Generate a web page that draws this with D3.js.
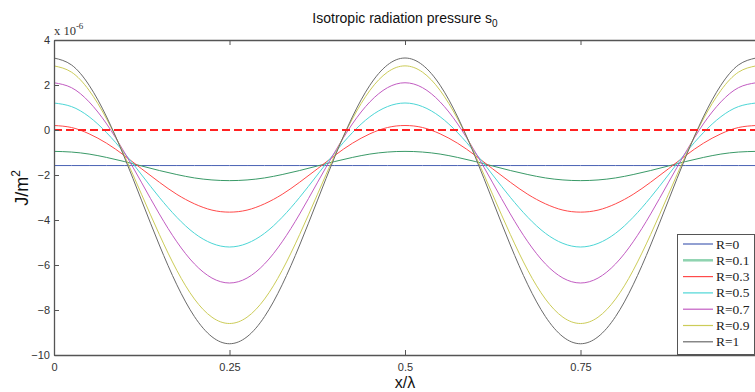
<!DOCTYPE html>
<html>
<head>
<meta charset="utf-8">
<script src="https://cdn.jsdelivr.net/npm/d3@7"></script>
<style>
  body { margin: 0; background: #fff; }
  svg { display: block; }
</style>
</head>
<body>
<script>
// sample positions along x/lambda
const xs = [0, 0.025, 0.05, 0.075, 0.1, 0.125, 0.15, 0.175, 0.2, 0.225, 0.25,
  0.275, 0.3, 0.325, 0.35, 0.375, 0.4, 0.425, 0.45, 0.475, 0.5,
  0.525, 0.55, 0.575, 0.6, 0.625, 0.65, 0.675, 0.7, 0.725, 0.75,
  0.775, 0.8, 0.825, 0.85, 0.875, 0.9, 0.925, 0.95, 0.975, 1];

// values in units of 1e-6 J/m^2
const r0 = [-1.58, -1.58, -1.58, -1.58, -1.58, -1.58, -1.58, -1.58, -1.58, -1.58, -1.58,
  -1.58, -1.58, -1.58, -1.58, -1.58, -1.58, -1.58, -1.58, -1.58, -1.58,
  -1.58, -1.58, -1.58, -1.58, -1.58, -1.58, -1.58, -1.58, -1.58, -1.58,
  -1.58, -1.58, -1.58, -1.58, -1.58, -1.58, -1.58, -1.58, -1.58, -1.58];
const r01 = [-0.95, -0.98, -1.07, -1.22, -1.40, -1.60, -1.80, -1.98, -2.13, -2.22, -2.25,
  -2.22, -2.13, -1.98, -1.80, -1.60, -1.40, -1.22, -1.07, -0.98, -0.95,
  -0.98, -1.07, -1.22, -1.40, -1.60, -1.80, -1.98, -2.13, -2.22, -2.25,
  -2.22, -2.13, -1.98, -1.80, -1.60, -1.40, -1.22, -1.07, -0.98, -0.95];
const r03 = [0.20, 0.11, -0.17, -0.59, -1.13, -1.73, -2.32, -2.86, -3.28, -3.56, -3.65,
  -3.56, -3.28, -2.86, -2.32, -1.73, -1.13, -0.59, -0.17, 0.11, 0.20,
  0.11, -0.17, -0.59, -1.13, -1.73, -2.32, -2.86, -3.28, -3.56, -3.65,
  -3.56, -3.28, -2.86, -2.32, -1.73, -1.13, -0.59, -0.17, 0.11, 0.20];
const r05 = [1.20, 1.04, 0.59, -0.12, -1.01, -2.00, -2.99, -3.88, -4.59, -5.04, -5.20,
  -5.04, -4.59, -3.88, -2.99, -2.00, -1.01, -0.12, 0.59, 1.04, 1.20,
  1.04, 0.59, -0.12, -1.01, -2.00, -2.99, -3.88, -4.59, -5.04, -5.20,
  -5.04, -4.59, -3.88, -2.99, -2.00, -1.01, -0.12, 0.59, 1.04, 1.20];
const r07 = [2.10, 1.88, 1.25, 0.27, -0.98, -2.35, -3.73, -4.97, -5.95, -6.58, -6.80,
  -6.58, -5.95, -4.97, -3.73, -2.35, -0.98, 0.27, 1.25, 1.88, 2.10,
  1.88, 1.25, 0.27, -0.98, -2.35, -3.73, -4.97, -5.95, -6.58, -6.80,
  -6.58, -5.95, -4.97, -3.73, -2.35, -0.98, 0.27, 1.25, 1.88, 2.10];
const r09 = [2.85, 2.57, 1.76, 0.49, -1.11, -2.88, -4.64, -6.24, -7.51, -8.32, -8.60,
  -8.32, -7.51, -6.24, -4.64, -2.88, -1.11, 0.49, 1.76, 2.57, 2.85,
  2.57, 1.76, 0.49, -1.11, -2.88, -4.64, -6.24, -7.51, -8.32, -8.60,
  -8.32, -7.51, -6.24, -4.64, -2.88, -1.11, 0.49, 1.76, 2.57, 2.85];
const r1 = [3.20, 2.89, 1.99, 0.58, -1.19, -3.15, -5.11, -6.88, -8.29, -9.19, -9.50,
  -9.19, -8.29, -6.88, -5.11, -3.15, -1.19, 0.58, 1.99, 2.89, 3.20,
  2.89, 1.99, 0.58, -1.19, -3.15, -5.11, -6.88, -8.29, -9.19, -9.50,
  -9.19, -8.29, -6.88, -5.11, -3.15, -1.19, 0.58, 1.99, 2.89, 3.20];

const labels = ["R=0", "R=0.1", "R=0.3", "R=0.5", "R=0.7", "R=0.9", "R=1"];
const colors = ["#4a62b4", "#3a9a68", "#ff4a4a", "#4cd6d6", "#c25cc2", "#cccc58", "#6a6a6a"];
const seriesValues = [r0, r01, r03, r05, r07, r09, r1];

const xTicks = [0, 0.25, 0.5, 0.75];
const xTickLabels = ["0", "0.25", "0.5", "0.75"];
const yTicks = [-10, -8, -6, -4, -2, 0, 2, 4];
const zeroLine = [0, 0];

const W = 755, H = 392;
const mLeft = 54, mTop = 40, mRight = 756, mBottom = 355;

const svg = d3.select("body").append("svg")
  .attr("width", W).attr("height", H);
svg.append("rect").attr("width", W).attr("height", H).attr("fill", "#fff");

const x = d3.scaleLinear().domain([0, 1]).range([mLeft, mRight]);
const y = d3.scaleLinear().domain([-10, 4]).range([mBottom, mTop]);

svg.append("clipPath").attr("id", "clip")
  .append("rect").attr("x", mLeft).attr("y", mTop)
  .attr("width", mRight - mLeft).attr("height", mBottom - mTop);

const plot = svg.append("g").attr("clip-path", "url(#clip)");

const line = d3.line()
  .x((d, i) => x(xs[i]))
  .y(d => y(d))
  .curve(d3.curveNatural);

plot.selectAll(".curve")
  .data(seriesValues)
  .enter().append("path")
  .attr("class", "curve")
  .attr("d", d => line(d))
  .attr("fill", "none")
  .attr("stroke", (d, i) => colors[i])
  .attr("stroke-width", 1);

// dashed zero line
plot.append("path")
  .attr("d", d3.line().x((d, i) => x(i)).y(d => y(d))(zeroLine))
  .attr("fill", "none")
  .attr("stroke", "#ff2222")
  .attr("stroke-width", 2)
  .attr("stroke-dasharray", "8,4");

// axes, matlab style ticks pointing inward
const axisColor = "#555";
const xb = svg.append("g")
  .attr("transform", `translate(0,${mBottom})`)
  .call(d3.axisBottom(x).tickValues(xTicks).tickFormat((d, i) => xTickLabels[i])
    .tickSizeInner(-5).tickSizeOuter(0).tickPadding(8));
const xt = svg.append("g")
  .attr("transform", `translate(0,${mTop})`)
  .call(d3.axisTop(x).tickValues(xTicks).tickFormat("")
    .tickSizeInner(-5).tickSizeOuter(0));
const yl = svg.append("g")
  .attr("transform", `translate(${mLeft},0)`)
  .call(d3.axisLeft(y).tickValues(yTicks).tickFormat(d3.format("d"))
    .tickSizeInner(-5).tickSizeOuter(0).tickPadding(4));

[xb, xt, yl].forEach(g => {
  g.select(".domain").attr("stroke", axisColor).attr("stroke-width", 1.3);
  g.selectAll(".tick line").attr("stroke", axisColor);
  g.selectAll(".tick text")
    .attr("fill", "#333")
    .style("font-family", "'Liberation Sans', Arial, sans-serif")
    .style("font-size", "11px");
});
xb.selectAll(".tick line").filter(d => d === 0).remove();
xt.selectAll(".tick line").filter(d => d === 0).remove();

// exponent label
const ex = svg.append("text")
  .attr("x", mLeft).attr("y", 35)
  .attr("fill", "#333")
  .style("font-family", "'Liberation Serif', 'Times New Roman', serif")
  .style("font-size", "12.5px");
ex.append("tspan").text("x 10");
ex.append("tspan").attr("dy", -6).style("font-size", "9px").text("-6");

// title
const title = svg.append("text")
  .attr("x", (mLeft + mRight) / 2).attr("y", 23)
  .attr("text-anchor", "middle")
  .attr("fill", "#111")
  .style("font-family", "'Liberation Sans', Arial, sans-serif")
  .style("font-size", "14px");
title.append("tspan").text("Isotropic radiation pressure s");
title.append("tspan").attr("dy", 4).style("font-size", "10px").text("0");

// axis labels
svg.append("text")
  .attr("x", (mLeft + mRight) / 2).attr("y", 388)
  .attr("text-anchor", "middle")
  .attr("fill", "#111")
  .style("font-family", "'Liberation Sans', Arial, sans-serif")
  .style("font-size", "16px")
  .text("x/λ");

const yLab = svg.append("text")
  .attr("transform", "translate(28,188) rotate(-90)")
  .attr("text-anchor", "middle")
  .attr("fill", "#111")
  .style("font-family", "'Liberation Sans', Arial, sans-serif")
  .style("font-size", "18px");
yLab.append("tspan").text("J/m");
yLab.append("tspan").attr("dy", -8).style("font-size", "12px").text("2");

// legend
const lg = svg.append("g");
lg.append("rect")
  .attr("x", 677.5).attr("y", 234.5)
  .attr("width", 77).attr("height", 120)
  .attr("fill", "#fff").attr("stroke", "#555");
const legendColors = colors.slice();
legendColors[1] = "#8fd3b0";
labels.forEach((lab, i) => {
  const yy = 244 + i * 16.3;
  lg.append("line")
    .attr("x1", 683).attr("x2", 713)
    .attr("y1", yy).attr("y2", yy)
    .attr("stroke", legendColors[i])
    .attr("stroke-width", i === 1 ? 2.5 : 1.2);
  lg.append("text")
    .attr("x", 716).attr("y", yy + 4.5)
    .attr("fill", "#222")
    .style("font-family", "'Liberation Serif', 'Times New Roman', serif")
    .style("font-size", "13.5px")
    .text(lab);
});
</script>
</body>
</html>
